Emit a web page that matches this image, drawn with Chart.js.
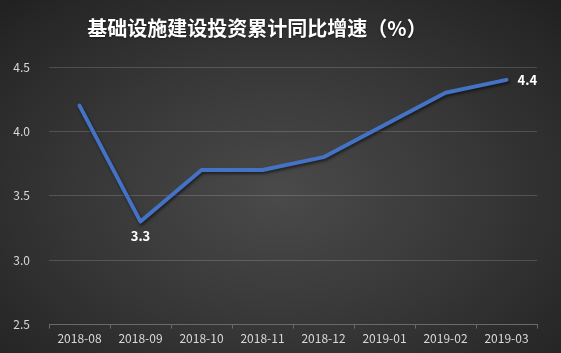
<!DOCTYPE html>
<html>
<head>
<meta charset="utf-8">
<script src="https://cdn.jsdelivr.net/npm/chart.js@4"></script>
<style>
  html,body{margin:0;padding:0;}
  body{width:561px;height:353px;overflow:hidden;
    background:radial-gradient(ellipse 75% 80% at 50% 55%, #4a4a4a 0%, #383838 45%, #262626 85%, #1e1e1e 100%);}
  #wrap{position:relative;width:561px;height:353px;}
</style>
</head>
<body>
<div id="wrap"><canvas id="c" width="561" height="353"></canvas></div>
<script>
/* data */
const chartTitle = '基础设施建设投资累计同比增速（%）';
const categories = ['2018-08','2018-09','2018-10','2018-11','2018-12','2019-01','2019-02','2019-03'];
const growth = [4.2, 3.3, 3.7, 3.7, 3.8, 4.05, 4.3, 4.4];
const yTicks = [2.5, 3.0, 3.5, 4.0, 4.5];
const labelled = {1:'bottom', 7:'right'};   // which points get a value label

const cjk = '"Noto Sans CJK SC", "Microsoft YaHei", sans-serif';

/* title (drawn by hand so it can sit left of the canvas centre like the original) */
const titleText = {
  id:'titleText',
  afterDraw(chart){
    const ctx = chart.ctx;
    ctx.save();
    ctx.fillStyle = '#ffffff';
    ctx.font = 'bold 20px ' + cjk;
    ctx.textAlign = 'center';
    ctx.textBaseline = 'middle';
    ctx.shadowColor = 'rgba(0,0,0,0.5)';
    ctx.shadowBlur = 2;
    ctx.shadowOffsetY = 1;
    ctx.fillText(chartTitle, 257, 28);
    ctx.restore();
  }
};

/* value labels + line shadow */
const valueLabels = {
  id:'valueLabels',
  beforeDatasetDraw(chart){
    const ctx = chart.ctx;
    ctx.save();
    ctx.shadowColor = 'rgba(0,0,0,0.55)';
    ctx.shadowBlur = 3;
    ctx.shadowOffsetX = 1;
    ctx.shadowOffsetY = 2;
  },
  afterDatasetDraw(chart){
    chart.ctx.restore();
  },
  afterDatasetsDraw(chart){
    const ctx = chart.ctx;
    const meta = chart.getDatasetMeta(0);
    ctx.save();
    ctx.fillStyle = '#ffffff';
    ctx.font = 'bold 13px ' + cjk;
    Object.keys(labelled).forEach(i=>{
      const p = meta.data[i];
      const txt = growth[i].toFixed(1);
      if(labelled[i]==='bottom'){
        ctx.textAlign='center'; ctx.textBaseline='top';
        ctx.fillText(txt, p.x, p.y+8);
      }else{
        ctx.textAlign='left'; ctx.textBaseline='middle';
        ctx.fillText(txt, p.x+11, p.y);
      }
    });
    ctx.restore();
  }
};

new Chart(document.getElementById('c'), {
  type:'line',
  data:{ labels:categories, datasets:[
    { data:growth, borderColor:'#4472C4', borderWidth:4, tension:0, pointRadius:0, fill:false, borderCapStyle:'round', borderJoinStyle:'round' }
  ]},
  options:{
    responsive:false,
    animation:false,
    layout:{ padding:{ left:0, right:24, top:0, bottom:4 } },
    plugins:{
      legend:{ display:false },
      tooltip:{ enabled:false },
      // kept only to reserve the space above the plot
      title:{ display:true, text:chartTitle, color:'rgba(0,0,0,0)',
        font:{ family:cjk, size:20, weight:'bold' }, padding:{ top:15, bottom:28 } }
    },
    scales:{
      x:{
        offset:true,
        grid:{ display:true, drawOnChartArea:false, drawTicks:true, tickLength:4, offset:true, color:'#6a6a6a' },
        border:{ display:true, color:'#6a6a6a' },
        ticks:{ color:'#d9d9d9', font:{ family:cjk, size:12 }, padding:3, maxRotation:0 }
      },
      y:{
        min:2.5, max:4.5,
        afterBuildTicks(axis){ axis.ticks = yTicks.map(v=>({value:v})); },
        afterFit(axis){ axis.width = 49; },
        grid:{ color:'rgba(255,255,255,0.16)', drawTicks:false },
        border:{ display:false },
        ticks:{ color:'#d9d9d9', font:{ family:cjk, size:12 }, padding:19,
          callback:v=>Number(v).toFixed(1) }
      }
    }
  },
  plugins:[valueLabels, titleText]
});
</script>
</body>
</html>
